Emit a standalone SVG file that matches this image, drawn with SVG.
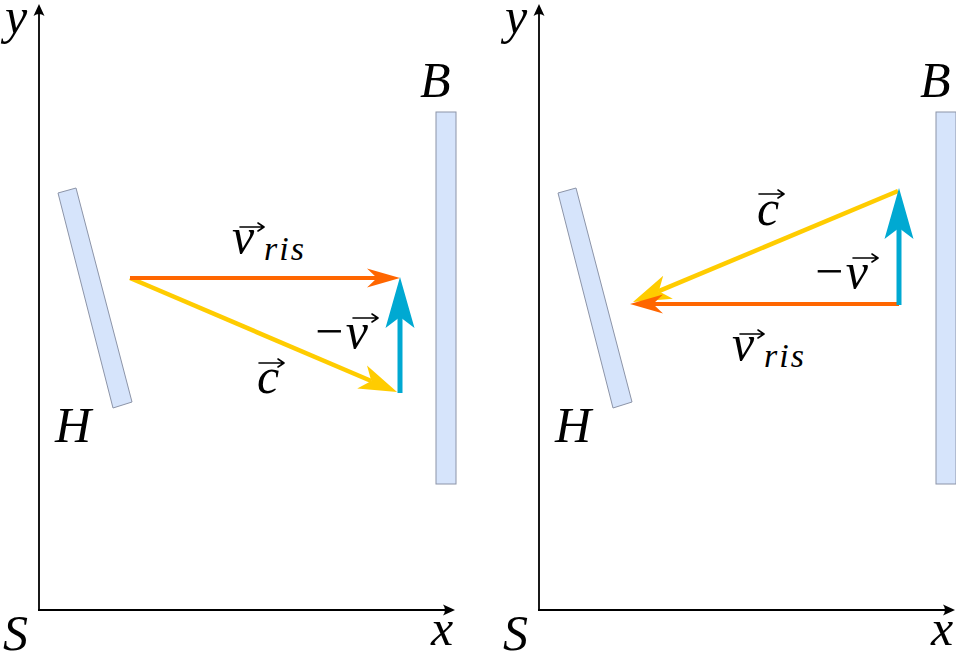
<svg xmlns="http://www.w3.org/2000/svg" width="956" height="660" viewBox="0 0 956 660">
<style>
.ax{stroke:#000;stroke-width:1.8;fill:none}
.bar{fill:#d6e4fb;stroke:#8c94a8;stroke-width:1}
.lbl{font-family:"Liberation Serif",serif;font-style:italic;font-size:50px;fill:#000}
.sub{font-size:34px;letter-spacing:2px}
.acc{stroke:#000;stroke-width:1.6;fill:none;stroke-linecap:round;stroke-linejoin:round}
.vo{stroke:#ff6600;stroke-width:4;fill:none}
.vy{stroke:#ffcc00;stroke-width:4.5;fill:none}
.vb{stroke:#00a9d2;stroke-width:5;fill:none}
</style>
<defs>
<marker id="axh" markerUnits="userSpaceOnUse" markerWidth="20" markerHeight="20" viewBox="-14 -10 20 20" refX="0" refY="0" orient="auto" overflow="visible">
<path d="M2,0 L-10,-5.5 Q-6,0 -10,5.5 Z" fill="#000"/>
</marker>
<marker id="ho" markerUnits="userSpaceOnUse" markerWidth="60" markerHeight="40" viewBox="-30 -20 60 40" refX="0" refY="0" orient="auto" overflow="visible">
<path d="M23,0 L-10,-9.5 L0,0 L-10,9.5 Z" fill="#ff6600"/>
</marker>
<marker id="hy" markerUnits="userSpaceOnUse" markerWidth="60" markerHeight="40" viewBox="-30 -20 60 40" refX="0" refY="0" orient="auto" overflow="visible">
<path d="M28,0 L-10,-12.5 L0,0 L-10,12.5 Z" fill="#ffcc00"/>
</marker>
<marker id="hb" markerUnits="userSpaceOnUse" markerWidth="70" markerHeight="40" viewBox="-30 -20 70 40" refX="0" refY="0" orient="auto" overflow="visible">
<path d="M40,0 L-11,-14.5 L0,0 L-11,14.5 Z" fill="#00a9d2"/>
</marker>
</defs>

<g id="left-axes">
<path class="ax" d="M39,610 L39,6" marker-end="url(#axh)"/>
<path class="ax" d="M38,610 L453,610" marker-end="url(#axh)"/>
<text class="lbl" x="5" y="33">y</text>
<text class="lbl" x="3" y="650">S</text>
<text class="lbl" x="431" y="645">x</text>
</g>
<g id="left-H">
<polygon class="bar" points="58,193 76,188 132,402 113,408"/>
<text class="lbl" x="55" y="442">H</text>
</g>
<g id="left-B">
<rect class="bar" x="436" y="112" width="20" height="372"/>
<text class="lbl" x="420" y="97">B</text>
</g>

<g id="right-axes">
<path class="ax" d="M539,610 L539,6" marker-end="url(#axh)"/>
<path class="ax" d="M538,610 L953,610" marker-end="url(#axh)"/>
<text class="lbl" x="505" y="33">y</text>
<text class="lbl" x="503" y="650">S</text>
<text class="lbl" x="931" y="645">x</text>
</g>
<g id="right-H">
<polygon class="bar" points="558,193 576,188 632,402 613,408"/>
<text class="lbl" x="555" y="442">H</text>
</g>
<g id="right-B">
<rect class="bar" x="936" y="112" width="20" height="372"/>
<text class="lbl" x="920" y="97">B</text>
</g>

<g id="connectors">
<path class="vy" d="M130,278 L371.3,381" marker-end="url(#hy)"/>
<path class="vo" d="M130,278 L377,278" marker-end="url(#ho)"/>
<path class="vb" d="M400,393 L400,317" marker-end="url(#hb)"/>
<path class="vy" d="M898,191 L658.8,291.2" marker-end="url(#hy)"/>
<path class="vo" d="M899,304 L653,304" marker-end="url(#ho)"/>
<path class="vb" d="M899,305 L899,228" marker-end="url(#hb)"/>
</g>

<g id="label-vris-left">
<text class="lbl" x="232" y="253">v<tspan class="sub" x="264" y="260">ris</tspan></text>
<path class="acc" d="M240,227 L264,227 M258,223 L264,227 L258,231"/>
</g>
<g id="label-c-left">
<text class="lbl" x="257" y="393">c</text>
<path class="acc" d="M259,363 L284,363 M278,359 L284,363 L278,367"/>
</g>
<g id="label-v-left">
<text class="lbl" x="312" y="348">−v</text>
<path class="acc" d="M353,318 L378,318 M372,314 L378,318 L372,322"/>
</g>
<g id="label-c-right">
<text class="lbl" x="757" y="225">c</text>
<path class="acc" d="M759,194 L784,194 M778,190 L784,194 L778,198"/>
</g>
<g id="label-v-right">
<text class="lbl" x="812" y="288">−v</text>
<path class="acc" d="M853,258 L878,258 M872,254 L878,258 L872,262"/>
</g>
<g id="label-vris-right">
<text class="lbl" x="732" y="360">v<tspan class="sub" x="764" y="367">ris</tspan></text>
<path class="acc" d="M740,334 L764,334 M758,330 L764,334 L758,338"/>
</g>
</svg>
